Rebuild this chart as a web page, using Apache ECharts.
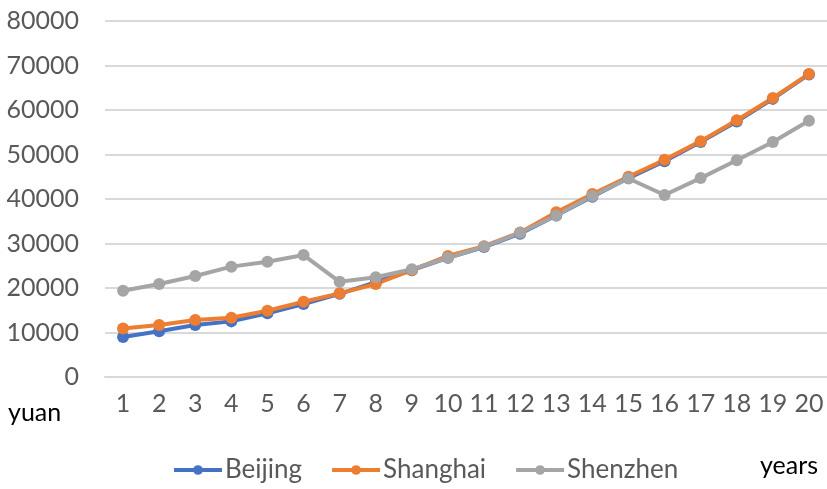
<!DOCTYPE html>
<html>
<head>
<meta charset="utf-8">
<script src="https://cdn.jsdelivr.net/npm/echarts@6/dist/echarts.min.js"></script>
<style>
  html, body { margin: 0; padding: 0; background: #fff; }
  #chart { width: 827px; height: 489px; }
</style>
</head>
<body>
<div id="chart"></div>
<script>
// Year index along the x axis
const years = ['1','2','3','4','5','6','7','8','9','10','11','12','13','14','15','16','17','18','19','20'];

// Income per city, in yuan
const beijing  = [9000, 10300, 11700, 12500, 14300, 16400, 18700, 21300, 24000, 26800, 29200, 32200, 36300, 40500, 44700, 48500, 52800, 57400, 62500, 68000];
const shanghai = [10900, 11700, 12800, 13300, 14900, 16900, 18800, 20900, 24000, 27200, 29400, 32500, 37000, 41100, 45000, 48800, 53000, 57700, 62700, 68100];
const shenzhen = [19400, 20900, 22700, 24800, 25900, 27400, 21400, 22400, 24200, 26800, 29300, 32400, 36300, 40700, 44600, 40900, 44700, 48700, 52800, 57600];

// Y axis range
const yMin = 0, yMax = 80000, yStep = 10000;

const FONT = 'Lato';
const colors = ['#4472C4', '#ED7D31', '#A5A5A5'];

const chart = echarts.init(document.getElementById('chart'), null, { renderer: 'canvas' });

function lineSeries(name, data, color) {
  return {
    name: name,
    type: 'line',
    data: data,
    symbol: 'circle',
    symbolSize: 12,
    color: color,
    lineStyle: { width: 4, color: color },
    itemStyle: { color: color },
    emphasis: { disabled: true },
    animation: false
  };
}

chart.setOption({
  animation: false,
  color: colors,
  textStyle: { fontFamily: FONT },
  grid: { left: 105, right: -4, top: 21, bottom: 112, containLabel: false },
  xAxis: {
    type: 'category',
    data: years,
    boundaryGap: true,
    axisLine: { show: true, lineStyle: { color: '#D9D9D9', width: 2 } },
    axisTick: { show: false },
    axisLabel: { color: '#595959', fontSize: 25, fontFamily: FONT, margin: 14, interval: 0 }
  },
  yAxis: {
    type: 'value',
    min: yMin,
    max: yMax,
    interval: yStep,
    axisLine: { show: false },
    axisTick: { show: false },
    splitLine: { lineStyle: { color: '#D9D9D9', width: 2 } },
    axisLabel: {
      color: '#595959', fontSize: 25, fontFamily: FONT, margin: 26,
      formatter: function (v) { return String(v); }
    }
  },
  legend: {
    data: ['Beijing', 'Shanghai', 'Shenzhen'],
    left: 167,
    top: 452,
    itemWidth: 48,
    itemHeight: 12,
    itemGap: 28,
    lineStyle: { width: 4 },
    textStyle: { color: '#595959', fontSize: 26, fontFamily: FONT, padding: [0, 0, 0, -2] }
  },
  graphic: [
    { type: 'text', left: 8, top: 400, style: { text: 'yuan', fill: '#000', font: '25px ' + FONT } },
    { type: 'text', left: 760, top: 453, style: { text: 'years', fill: '#000', font: '25px ' + FONT } }
  ],
  series: [
    lineSeries('Beijing', beijing, colors[0]),
    lineSeries('Shanghai', shanghai, colors[1]),
    lineSeries('Shenzhen', shenzhen, colors[2])
  ]
});
</script>
</body>
</html>
